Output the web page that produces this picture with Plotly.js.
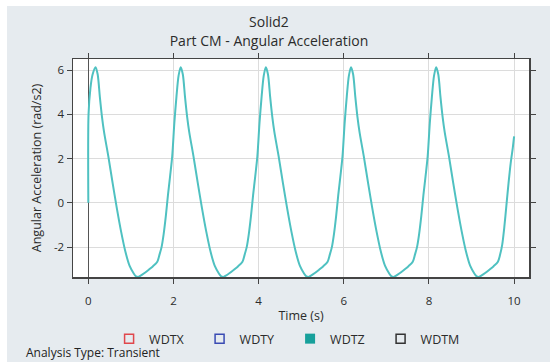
<!DOCTYPE html>
<html>
<head>
<meta charset="utf-8">
<script src="https://cdn.plot.ly/plotly-3.0.1.min.js"></script>
<style>
html,body{margin:0;padding:0;background:#ffffff;width:550px;height:362px;overflow:hidden;}
#chart{position:absolute;left:7px;top:6px;width:543px;height:356px;}
</style>
</head>
<body>
<div id="chart"></div>
<script>
// Time (s)
const time = [
  0, 0.005, 0.05, 0.1, 0.17, 0.22, 0.27, 0.32, 0.37, 0.47, 0.57, 0.67, 0.77, 0.87, 0.97, 1.07, 1.12, 1.17, 1.22, 1.32, 1.42, 1.52, 1.62,
  1.67, 1.72, 1.77, 1.82, 1.87, 1.92, 1.97, 2.02, 2.07, 2.12, 2.17, 2.22, 2.27, 2.32, 2.37, 2.47, 2.57, 2.67, 2.77, 2.87, 2.97, 3.07, 3.12, 3.17, 3.22, 3.32, 3.42, 3.52, 3.62,
  3.67, 3.72, 3.77, 3.82, 3.87, 3.92, 3.97, 4.02, 4.07, 4.12, 4.17, 4.22, 4.27, 4.32, 4.37, 4.47, 4.57, 4.67, 4.77, 4.87, 4.97, 5.07, 5.12, 5.17, 5.22, 5.32, 5.42, 5.52, 5.62,
  5.67, 5.72, 5.77, 5.82, 5.87, 5.92, 5.97, 6.02, 6.07, 6.12, 6.17, 6.22, 6.27, 6.32, 6.37, 6.47, 6.57, 6.67, 6.77, 6.87, 6.97, 7.07, 7.12, 7.17, 7.22, 7.32, 7.42, 7.52, 7.62,
  7.67, 7.72, 7.77, 7.82, 7.87, 7.92, 7.97, 8.02, 8.07, 8.12, 8.17, 8.22, 8.27, 8.32, 8.37, 8.47, 8.57, 8.67, 8.77, 8.87, 8.97, 9.07, 9.12, 9.17, 9.22, 9.32, 9.42, 9.52, 9.62,
  9.67, 9.72, 9.77, 9.82, 9.87, 9.92, 9.97, 10.0
];
// WDTZ angular acceleration (rad/s2)
const wdtz = [
  0, 4.0, 5.2, 5.8, 6.13, 5.8, 4.8, 3.9, 3.2, 2.1, 0.9, -0.25, -1.3, -2.2, -2.85, -3.2, -3.32, -3.35, -3.3, -3.17, -3.02, -2.86, -2.66,
  -2.35, -2.0, -1.4, -0.6, 0.35, 1.2, 2.1, 3.6, 4.8, 5.75, 6.13, 5.8, 4.8, 3.9, 3.2, 2.1, 0.9, -0.25, -1.3, -2.2, -2.85, -3.2, -3.32, -3.35, -3.3, -3.17, -3.02, -2.86, -2.66,
  -2.35, -2.0, -1.4, -0.6, 0.35, 1.2, 2.1, 3.6, 4.8, 5.75, 6.13, 5.8, 4.8, 3.9, 3.2, 2.1, 0.9, -0.25, -1.3, -2.2, -2.85, -3.2, -3.32, -3.35, -3.3, -3.17, -3.02, -2.86, -2.66,
  -2.35, -2.0, -1.4, -0.6, 0.35, 1.2, 2.1, 3.6, 4.8, 5.75, 6.13, 5.8, 4.8, 3.9, 3.2, 2.1, 0.9, -0.25, -1.3, -2.2, -2.85, -3.2, -3.32, -3.35, -3.3, -3.17, -3.02, -2.86, -2.66,
  -2.35, -2.0, -1.4, -0.6, 0.35, 1.2, 2.1, 3.6, 4.8, 5.75, 6.13, 5.8, 4.8, 3.9, 3.2, 2.1, 0.9, -0.25, -1.3, -2.2, -2.85, -3.2, -3.32, -3.35, -3.3, -3.17, -3.02, -2.86, -2.66,
  -2.35, -1.9, -1.1, -0.1, 0.9, 1.8, 2.5, 3.0
];
// Legend series names
const seriesNames = ["WDTX", "WDTY", "WDTZ", "WDTM"];
// Axis ticks
const xTicks = [0, 2, 4, 6, 8, 10];
const xTickText = ["0", "2", "4", "6", "8", "10"];
const yTicks = [-2, 0, 2, 4, 6];
const yTickText = ["-2", "0", "2", "4", "6"];

const FONT = "'Open Sans', 'Noto Sans', sans-serif";
const txt = "#2b2b2b";

const traces = [
  {x: time, y: wdtz, type: "scatter", mode: "lines", name: seriesNames[2],
   line: {color: "#4fc1c1", width: 2, shape: "spline", smoothing: 0.8}, showlegend: false, hoverinfo: "skip"},
  {x: [null], y: [null], type: "scatter", mode: "markers", name: seriesNames[0],
   marker: {symbol: "square-open", size: 9, color: "#e0474c", line: {width: 1.5}}},
  {x: [null], y: [null], type: "scatter", mode: "markers", name: seriesNames[1],
   marker: {symbol: "square-open", size: 9, color: "#3a4bb3", line: {width: 1.5}}},
  {x: [null], y: [null], type: "scatter", mode: "markers", name: seriesNames[2],
   marker: {symbol: "square", size: 10, color: "#17a09b"}},
  {x: [null], y: [null], type: "scatter", mode: "markers", name: seriesNames[3],
   marker: {symbol: "square-open", size: 9, color: "#333333", line: {width: 1.5}}}
];

const layout = {
  width: 543, height: 356,
  margin: {l: 66, r: 21, t: 53, b: 85},
  paper_bgcolor: "#e6ebef",
  plot_bgcolor: "#ffffff",
  font: {family: FONT, size: 11.5, color: txt},
  title: {text: "Solid2<br>Part CM - Angular Acceleration", font: {family: FONT, size: 14, color: txt},
          xref: "container", x: 0.4825, xanchor: "center", yref: "container", y: 0.94, yanchor: "top",
          automargin: false},
  xaxis: {range: [-0.36, 10.35], tickvals: xTicks, ticktext: xTickText,
          showline: true, linecolor: "#444", linewidth: 1.5, mirror: "ticks",
          ticks: "outside", ticklen: 5, tickcolor: "#444", tickwidth: 1, ticklabelstandoff: 8,
          showgrid: true, gridcolor: "#dcdcdc", gridwidth: 1,
          zeroline: true, zerolinecolor: "#555", zerolinewidth: 1,
          title: {text: "Time (s)", font: {family: FONT, size: 12.5, color: txt}, standoff: 10}},
  yaxis: {range: [-3.35, 6.5], tickvals: yTicks, ticktext: yTickText,
          showline: true, linecolor: "#444", linewidth: 1.5, mirror: "ticks",
          ticks: "outside", ticklen: 5, tickcolor: "#444", tickwidth: 1,
          showgrid: true, gridcolor: "#dcdcdc", gridwidth: 1,
          zeroline: false,
          title: {text: "Angular Acceleration (rad/s2)", font: {family: FONT, size: 12.5, color: txt}, standoff: 9}},
  showlegend: true,
  legend: {orientation: "h", xref: "container", yref: "container", x: 0.188, xanchor: "left", y: 0.1067, yanchor: "top",
           bgcolor: "rgba(0,0,0,0)", font: {family: FONT, size: 12.5, color: txt},
           entrywidth: 45.5, entrywidthmode: "pixels", itemclick: false},
  annotations: [
    {text: "Analysis Type: Transient", xref: "paper", yref: "paper", x: -0.1075, y: -0.3486,
     xanchor: "left", yanchor: "middle", showarrow: false, font: {family: FONT, size: 12, color: "#222"}}
  ]
};

Plotly.newPlot("chart", traces, layout, {displayModeBar: false, staticPlot: true});
</script>
</body>
</html>
